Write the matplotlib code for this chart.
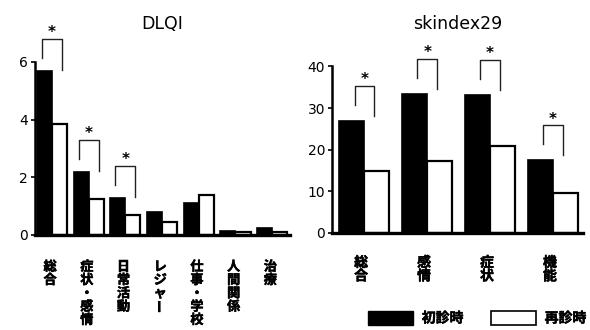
import matplotlib.pyplot as plt
import matplotlib.patheffects as pe
from matplotlib.patches import Patch

JP = "Noto Sans CJK JP"

# DLQI subscale means
dlqi_labels = ["総合", "症状・感情", "日常活動", "レジャー", "仕事・学校", "人間関係", "治療"]
dlqi_first = [5.7, 2.2, 1.3, 0.8, 1.1, 0.15, 0.25]
dlqi_revisit = [3.85, 1.25, 0.7, 0.45, 1.4, 0.12, 0.12]
dlqi_sig = [0, 1, 2]

# Skindex-29 subscale means
skin_labels = ["総合", "感情", "症状", "機能"]
skin_first = [27.0, 33.5, 33.2, 17.5]
skin_revisit = [15.0, 17.2, 21.0, 9.6]
skin_sig = [0, 1, 2, 3]

legend_labels = ["初診時", "再診時"]

plt.rcParams["font.family"] = ["DejaVu Sans", JP]
# thicken the CJK glyphs a little
heavy = [pe.withStroke(linewidth=0.35, foreground="black")]


def px_to_data(ax, px):
    y0, y1 = ax.get_ylim()
    return px * (y1 - y0) / ax.bbox.height


def vertical_label(ax, x, text, top_px, step_px, size):
    # stack characters top to bottom, below the x axis
    trans = ax.get_xaxis_transform()
    for j, ch in enumerate(text):
        y = -(top_px + (j + 0.5) * step_px) / ax.bbox.height
        rot = 90 if ch == "ー" else 0
        ax.text(x, y, ch, transform=trans, ha="center", va="center",
                family=JP, fontsize=size, fontweight="bold", rotation=rot,
                clip_on=False, path_effects=heavy)


def draw_panel(ax, title, labels, first, revisit, sig, width, ymax, yticks,
               leg, offs, label_top, label_step, label_size, title_pad):
    xs = range(len(labels))
    ax.bar([x - width / 2 for x in xs], first, width, color="black",
           edgecolor="black", linewidth=1.2)
    ax.bar([x + width / 2 for x in xs], revisit, width, color="white",
           edgecolor="black", linewidth=1.6)
    ax.set_ylim(0, ymax)
    ax.set_yticks(yticks)
    ax.set_xticks([])
    ax.spines["top"].set_visible(False)
    ax.spines["right"].set_visible(False)
    ax.spines["left"].set_linewidth(1.8)
    ax.spines["bottom"].set_linewidth(2.4)
    ax.tick_params(axis="y", length=3, width=1.2, pad=2, labelsize=10)
    ax.set_title(title, fontsize=12.5, pad=title_pad)

    top_px, left_px, right_px, star_px = offs
    for i in sig:
        base = first[i]
        top = base + px_to_data(ax, top_px)
        ax.plot([i - leg, i - leg, i + leg, i + leg],
                [base + px_to_data(ax, left_px), top, top,
                 base + px_to_data(ax, right_px)],
                color="#222222", lw=1.0, clip_on=False)
        ax.text(i, top + px_to_data(ax, star_px), "*", ha="center",
                va="center", fontsize=11, fontweight="bold", clip_on=False)

    for i, lab in enumerate(labels):
        vertical_label(ax, i - 0.05, lab, label_top, label_step, label_size)


fig = plt.figure(figsize=(5.9, 3.3), dpi=100)
ax1 = fig.add_axes([35 / 590, 95 / 330, 255 / 590, 173 / 330])
ax1.set_xlim(-0.463, 6.485)
ax2 = fig.add_axes([332 / 590, 97 / 330, 251 / 590, 166.5 / 330])
ax2.set_xlim(-0.513, 3.476)

draw_panel(ax1, "DLQI", dlqi_labels, dlqi_first, dlqi_revisit, dlqi_sig,
           0.41, 6, [0, 2, 4, 6], 0.27, (32, 13, 1, 6), 25, 13.3, 9.5, 24)
draw_panel(ax2, "skindex29", skin_labels, skin_first, skin_revisit, skin_sig,
           0.40, 40, [0, 10, 20, 30, 40], 0.155, (35, 16, 5, 6), 23, 13.5, 10,
           27)

handles = [Patch(facecolor="black", edgecolor="black"),
           Patch(facecolor="white", edgecolor="black", linewidth=1.2)]
leg = fig.legend(handles, legend_labels, loc="center",
                 bbox_to_anchor=(0.809, 0.036), ncol=2, frameon=False,
                 prop={"family": JP, "size": 10, "weight": "bold"},
                 handlelength=3.25, handleheight=1.15, handletextpad=0.6,
                 columnspacing=2.0)
for t in leg.get_texts():
    t.set_path_effects(heavy)

fig.savefig("out.png", dpi=100)
